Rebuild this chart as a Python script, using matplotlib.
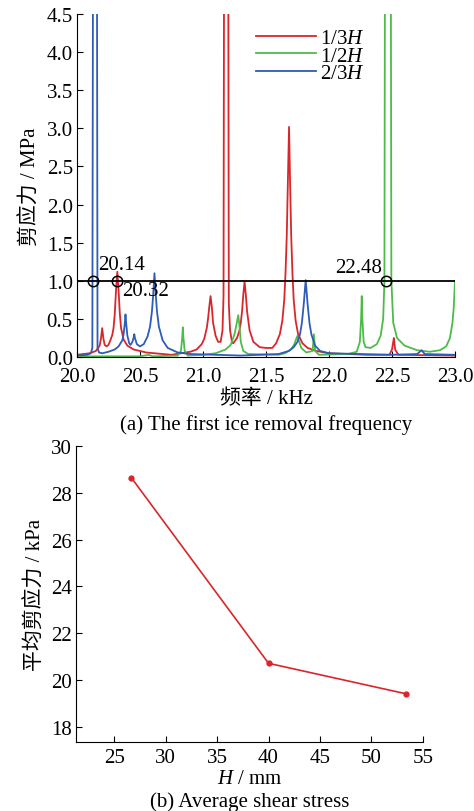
import numpy as np
import matplotlib
matplotlib.use("Agg")
import matplotlib.pyplot as plt

plt.rcParams['font.family'] = ['Liberation Serif', 'Noto Sans CJK SC']
plt.rcParams['mathtext.fontset'] = 'custom'
plt.rcParams['mathtext.rm'] = 'Liberation Serif'
plt.rcParams['mathtext.it'] = 'Liberation Serif:italic'
plt.rcParams['axes.unicode_minus'] = False

# (a) shear stress spectra, MPa vs kHz
freq_13 = [20.00, 20.10, 20.15, 20.18, 20.19, 20.20, 20.21, 20.22, 20.235, 20.25, 20.265,
           20.28, 20.29, 20.30, 20.31, 20.32, 20.33, 20.34, 20.35, 20.37, 20.40, 20.45, 20.55,
           20.75, 20.90, 20.95, 20.99, 21.01, 21.03, 21.04, 21.05, 21.06, 21.07, 21.08, 21.10,
           21.12, 21.14, 21.155, 21.163, 21.168, 21.200, 21.205, 21.215, 21.23, 21.24, 21.27,
           21.29, 21.30, 21.31, 21.32, 21.33, 21.34, 21.35, 21.37, 21.40, 21.45, 21.50, 21.55,
           21.58, 21.61, 21.63, 21.645, 21.655, 21.665, 21.675, 21.683, 21.69, 21.70, 21.71,
           21.72, 21.735, 21.755, 21.79, 21.83, 21.90, 22.00, 22.30, 22.48, 22.50, 22.51,
           22.515, 22.525, 22.55, 23.00]
tau_13 = [0.03, 0.05, 0.08, 0.15, 0.24, 0.38, 0.24, 0.16, 0.14, 0.16, 0.22,
          0.29, 0.38, 0.57, 0.88, 1.12, 0.88, 0.57, 0.38, 0.23, 0.15, 0.10, 0.06,
          0.03, 0.07, 0.10, 0.17, 0.24, 0.38, 0.50, 0.66, 0.80, 0.66, 0.45, 0.28,
          0.20, 0.20, 0.35, 0.80, 6.00, 6.00, 0.70, 0.35, 0.20, 0.18, 0.25,
          0.35, 0.45, 0.60, 0.82, 0.99, 0.82, 0.60, 0.35, 0.20, 0.13, 0.12, 0.12,
          0.18, 0.30, 0.48, 0.75, 1.10, 1.60, 2.40, 3.02, 2.40, 1.60, 1.10,
          0.75, 0.48, 0.30, 0.18, 0.12, 0.08, 0.05, 0.03, 0.03, 0.10, 0.20,
          0.25, 0.10, 0.03, 0.02]

freq_12 = [20.00, 20.50, 20.57, 20.60, 20.80, 20.825, 20.835, 20.84, 20.845, 20.855, 20.88,
           21.00, 21.10, 21.18, 21.22, 21.25, 21.265, 21.28, 21.29, 21.30, 21.32, 21.36, 21.60,
           21.65, 21.70, 21.725, 21.74, 21.75, 21.76, 21.78, 21.82, 21.87, 21.88, 21.89, 21.92,
           22.15, 22.22, 22.245, 22.255, 22.26, 22.265, 22.275, 22.29, 22.33, 22.38, 22.41,
           22.43, 22.44, 22.445, 22.49, 22.495, 22.51, 22.54, 22.60, 22.70, 22.80, 22.88,
           22.93, 22.96, 22.98, 22.99, 23.00]
tau_12 = [0.01, 0.01, 0.03, 0.01, 0.02, 0.08, 0.25, 0.39, 0.25, 0.08, 0.02,
          0.03, 0.05, 0.10, 0.16, 0.30, 0.42, 0.55, 0.40, 0.20, 0.08, 0.04, 0.03,
          0.05, 0.10, 0.17, 0.24, 0.28, 0.22, 0.12, 0.06, 0.08, 0.30, 0.08, 0.03,
          0.04, 0.07, 0.20, 0.50, 0.80, 0.50, 0.20, 0.13, 0.12, 0.17, 0.28,
          0.50, 1.00, 6.00, 6.00, 1.00, 0.45, 0.25, 0.15, 0.09, 0.07, 0.09,
          0.14, 0.25, 0.45, 0.65, 1.00]

freq_23 = [20.00, 20.08, 20.11, 20.122, 20.128, 20.158, 20.163, 20.175, 20.20, 20.25, 20.30,
           20.33, 20.36, 20.37, 20.38, 20.385, 20.39, 20.40, 20.415, 20.425, 20.44, 20.45,
           20.455, 20.46, 20.475, 20.50, 20.53, 20.56, 20.58, 20.595, 20.605, 20.615, 20.625,
           20.635, 20.65, 20.68, 20.72, 20.80, 20.90, 21.30, 21.60, 21.68, 21.72, 21.75, 21.77,
           21.785, 21.80, 21.815, 21.83, 21.845, 21.86, 21.89, 21.93, 22.00, 22.50, 22.70,
           22.735, 22.76, 23.00]
tau_23 = [0.02, 0.03, 0.05, 0.12, 6.00, 6.00, 0.12, 0.06, 0.05, 0.07, 0.10,
          0.14, 0.22, 0.30, 0.45, 0.56, 0.45, 0.28, 0.18, 0.16, 0.20, 0.26,
          0.30, 0.25, 0.17, 0.14, 0.17, 0.27, 0.40, 0.60, 0.82, 1.10, 0.82,
          0.60, 0.40, 0.22, 0.12, 0.06, 0.04, 0.02, 0.04, 0.08, 0.13, 0.20, 0.30,
          0.45, 0.70, 1.01, 0.70, 0.45, 0.30, 0.15, 0.08, 0.05, 0.03, 0.04,
          0.09, 0.04, 0.03]

threshold = 1.0
marker_freqs = [20.13, 20.32, 22.45]
first_labels = ["20.14", "20.32", "22.48"]

# (b) average shear stress vs H
H_mm = [26.67, 40.0, 53.33]
avg_tau = [28.65, 20.72, 19.42]

red = '#d9262b'
green = '#4dbb4a'
blue = '#2e5cb8'
fs = 15

fig = plt.figure(figsize=(4.74, 8.12), dpi=100)

# ---- (a)
pos1 = [0.1624, 0.559, 0.7975, 0.4225]
ax1 = fig.add_axes(pos1)
ax1.plot(freq_13, tau_13, color=red, lw=1.3, label='1/3$H$')
ax1.plot(freq_12, tau_12, color=green, lw=1.3, label='1/2$H$')
ax1.plot(freq_23, tau_23, color=blue, lw=1.3, label='2/3$H$')
ax1.plot([20.0, 23.0], [threshold, threshold], color='black', lw=1.3)
ax1.plot(marker_freqs, [threshold] * 3, 'o', ms=7.5, mfc='none', mec='black', mew=1.1)
ax1.text(20.165, 1.21, first_labels[0], fontsize=fs, va='center', ha='left')
ax1.text(20.36, 0.88, first_labels[1], fontsize=fs, va='center', ha='left')
ax1.text(22.05, 1.18, first_labels[2], fontsize=fs, va='center', ha='left')
ax1.set_xlim(20.0, 23.0)
ax1.set_ylim(0, 4.5)
ax1.set_xticks(np.arange(20.0, 23.01, 0.5))
ax1.set_yticks(np.arange(0, 4.51, 0.5))
ax1.xaxis.set_major_formatter(plt.FormatStrFormatter('%.1f'))
ax1.yaxis.set_major_formatter(plt.FormatStrFormatter('%.1f'))
ax1.spines['top'].set_visible(False)
ax1.spines['right'].set_visible(False)
ax1.tick_params(direction='in', labelsize=fs, length=4)
ax1.tick_params(axis='x', pad=7)
ax1.tick_params(axis='y', pad=3)
ax1.set_xlabel('频率 / kHz', fontsize=fs, labelpad=2)
ax1.set_ylabel('剪应力 / MPa', fontsize=fs, labelpad=4)
ax1.legend(loc='upper left', bbox_to_anchor=(0.44, 0.994), frameon=False, fontsize=fs,
           handlelength=2.9, handletextpad=0.2, labelspacing=-0.1, borderaxespad=0.2)
fig.text(pos1[0] + pos1[2] / 2, 1 - 425 / 812, '(a) The first ice removal frequency',
         ha='center', va='center', fontsize=fs)

# ---- (b)
pos2 = [0.1603, 0.085, 0.732, 0.3645]
ax2 = fig.add_axes(pos2)
ax2.plot(H_mm, avg_tau, color=red, lw=1.2, marker='o', ms=3.5)
ax2.set_xlim(21.3, 55)
ax2.set_ylim(17.36, 30)
ax2.set_xticks(np.arange(25, 56, 5))
ax2.set_yticks(np.arange(18, 31, 2))
ax2.spines['top'].set_visible(False)
ax2.spines['right'].set_visible(False)
ax2.tick_params(direction='in', labelsize=fs, length=4)
ax2.tick_params(axis='x', pad=4)
ax2.tick_params(axis='y', pad=3)
ax2.set_xlabel('$H$ / mm', fontsize=fs, labelpad=2)
ax2.set_ylabel('平均剪应力 / kPa', fontsize=fs, labelpad=4)
fig.text(pos2[0] + pos2[2] / 2, 1 - 802 / 812, '(b) Average shear stress',
         ha='center', va='center', fontsize=fs)

fig.savefig('out.png', dpi=100)
